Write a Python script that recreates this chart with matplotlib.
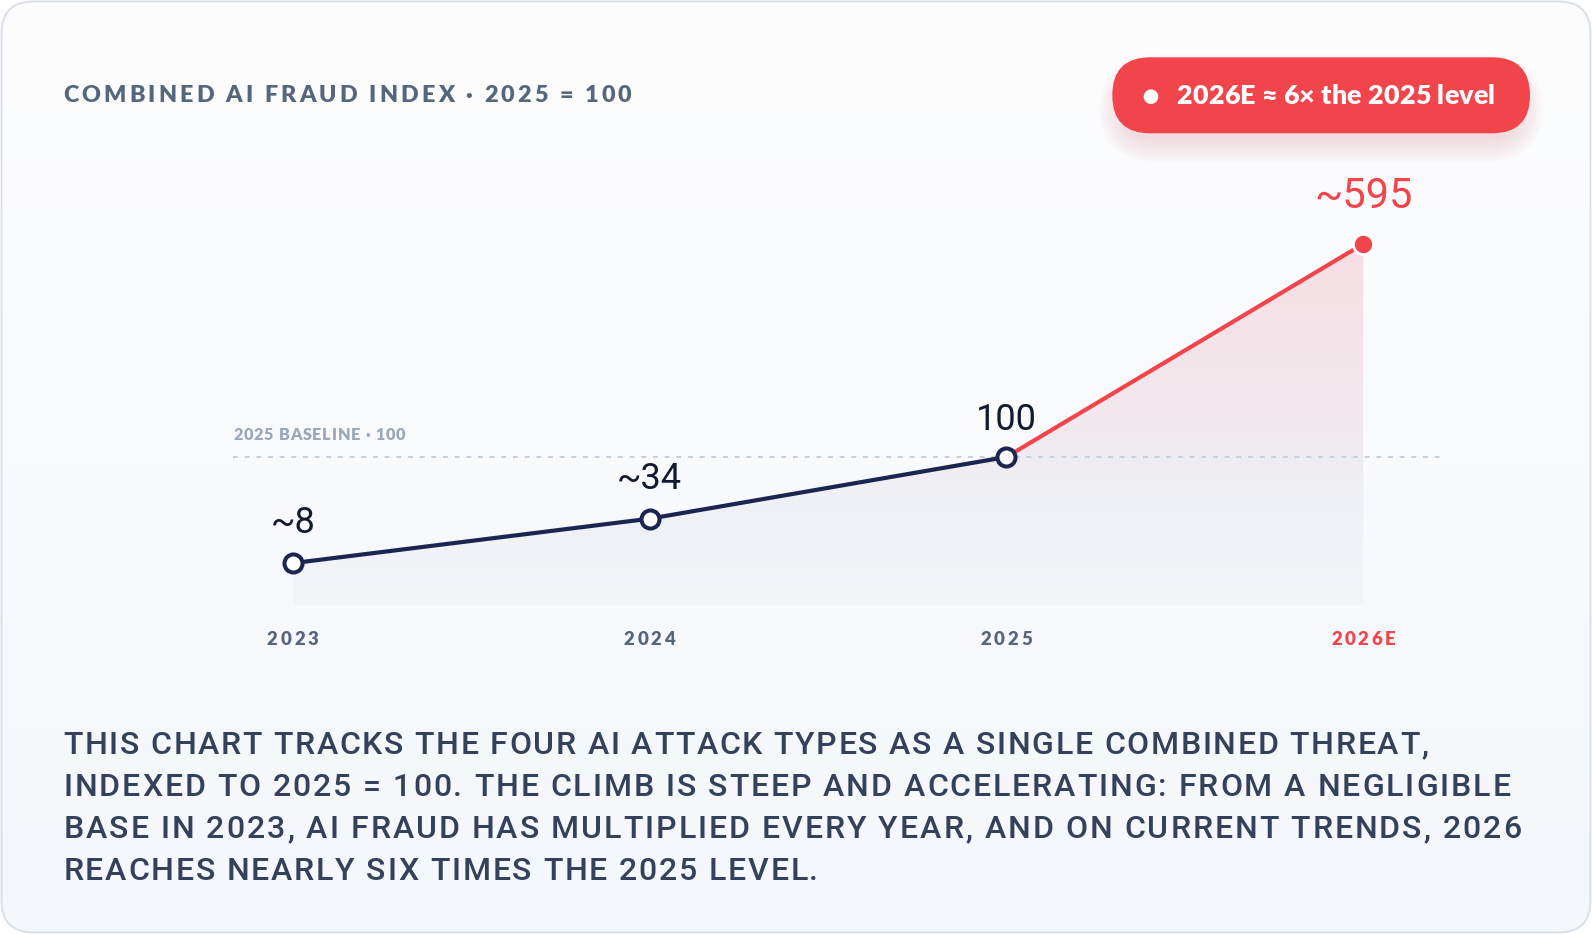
import numpy as np
import matplotlib
matplotlib.use('Agg')
import matplotlib.pyplot as plt
from matplotlib import font_manager as fm
from matplotlib.ft2font import FT2Font
from matplotlib.patches import FancyBboxPatch, Circle, Polygon
from matplotlib.colors import LinearSegmentedColormap

try:
    from matplotlib.ft2font import LoadFlags
    NOHINT = LoadFlags.NO_HINTING
except Exception:
    from matplotlib.ft2font import LOAD_NO_HINTING as NOHINT

# ---------------- data ----------------
years = ['2023', '2024', '2025', '2026E']
index_values = [8, 34, 100, 595]
value_labels = ['~8', '~34', '100', '~595']
baseline_value = 100
title = 'COMBINED AI FRAUD INDEX \u00b7 2025 = 100'
badge_text = '2026E \u2248 6\u00d7 the 2025 level'
baseline_label = '2025 BASELINE \u00b7 100'
paragraph_lines = [
    'THIS CHART TRACKS THE FOUR AI ATTACK TYPES AS A SINGLE COMBINED THREAT,',
    'INDEXED TO 2025 = 100. THE CLIMB IS STEEP AND ACCELERATING: FROM A NEGLIGIBLE',
    'BASE IN 2023, AI FRAUD HAS MULTIPLIED EVERY YEAR, AND ON CURRENT TRENDS, 2026',
    'REACHES NEARLY SIX TIMES THE 2025 LEVEL.',
]

# ---------------- style ----------------
NAVY = '#1b2550'
RED = '#f1444b'
SLATE = '#56667d'
DARK = '#121a2f'
PARA = '#33425a'

W, H = 1592, 934
DPI = 100
fig = plt.figure(figsize=(W / DPI, H / DPI), dpi=DPI)
fig.patch.set_facecolor('white')

bg = fig.add_axes([0, 0, 1, 1], zorder=0)
bg.set_xlim(0, W)
bg.set_ylim(H, 0)
bg.axis('off')

# card with vertical gradient
card = FancyBboxPatch((1.5, 1.5), W - 3, H - 3,
                      boxstyle='round,pad=0,rounding_size=32',
                      fc='none', ec='#d6dee8', lw=1.3, zorder=2)
bg.add_patch(card)
card_cmap = LinearSegmentedColormap.from_list('card', ['#fdfdfe', '#f4f7fb'])
grad = np.linspace(0, 1, 256).reshape(-1, 1)
im = bg.imshow(grad, cmap=card_cmap, extent=[0, W, H, 0], aspect='auto',
               origin='upper', zorder=1, interpolation='bilinear')
im.set_clip_path(card)
bg.set_xlim(0, W)
bg.set_ylim(H, 0)

# ---------------- tracked text helper ----------------
_ft_cache = {}


def _ft(family, weight, size):
    key = (family, weight, size)
    if key not in _ft_cache:
        path = fm.findfont(fm.FontProperties(family=family, weight=weight))
        f = FT2Font(path, hinting_factor=1)
        f.set_size(size, DPI)
        _ft_cache[key] = f
    return _ft_cache[key]


def _adv(f, ch):
    if f.get_char_index(ord(ch)) == 0:
        return None
    g = f.load_char(ord(ch), flags=NOHINT)
    return g.linearHoriAdvance / 65536.0


def _layout(s, family, weight, size, fallback='DejaVu Sans'):
    items = []
    for ch in s:
        fam = family
        a = _adv(_ft(family, weight, size), ch)
        if a is None:
            fam = fallback
            a = _adv(_ft(fallback, weight, size), ch)
        items.append((ch, a, fam))
    return items


def tracked(s, x, y, family, weight, size, color, track=None, width=None,
            ha='left', zorder=5):
    items = _layout(s, family, weight, size)
    natural = sum(a for _, a, _ in items)
    if width is not None:
        track = (width - natural) / max(len(items) - 1, 1)
    track = track or 0.0
    total = natural + track * (len(items) - 1)
    x0 = x - {'left': 0.0, 'center': total / 2.0, 'right': total}[ha]
    pen = x0
    for ch, a, fam in items:
        if not ch.isspace():
            bg.text(pen, y, ch, family=fam, weight=weight, size=size,
                    color=color, ha='left', va='baseline', zorder=zorder)
        pen += a + track
    return track


# ---------------- title ----------------
tracked(title, 63.3, 101.7, 'Lato', 'heavy', 16.8, SLATE, width=568)

# ---------------- badge ----------------
px, py, pw, ph = 1112.3, 57.3, 417.7, 76.0
for i in range(14):
    g = i * 1.8
    bg.add_patch(FancyBboxPatch((px - g + 10, py - g + 20), pw + 2 * g - 20, ph + 2 * g - 14,
                                boxstyle='round,pad=0,rounding_size=%f' % (36 + g),
                                fc=RED, ec='none', alpha=0.010, zorder=3))
bg.add_patch(FancyBboxPatch((px, py), pw, ph, boxstyle='round,pad=0,rounding_size=38',
                            fc=RED, ec='none', zorder=4))
bg.add_patch(Circle((1151, 96.7), 7.3, fc='white', ec='none', zorder=5))
tracked(badge_text, 1176.7, 104.3, 'Lato', 'heavy', 19.4, 'white', width=318)

# ---------------- chart axes ----------------
ax_left, ax_right, ax_top, ax_bottom = 233.0, 1440.0, 150.0, 605.0
x_origin, x_step, y_k = 292.8, 356.8, 14.8
ax = fig.add_axes([ax_left / W, (H - ax_bottom) / H,
                   (ax_right - ax_left) / W, (ax_bottom - ax_top) / H], zorder=1)
ax.patch.set_alpha(0)
ax.axis('off')
ax.set_xlim((ax_left - x_origin) / x_step, (ax_right - x_origin) / x_step)
ax.set_ylim(0, (ax_bottom - ax_top) / y_k)

xs = np.arange(len(years))
sv = np.sqrt(np.array(index_values, dtype=float))  # square-root scale

# gradient area fill
area_cmap = LinearSegmentedColormap.from_list(
    'area', [(0.0, '#f4f5f9'), (0.30, '#eff0f5'), (0.42, '#f0ecf1'),
             (0.70, '#f3e5ea'), (1.0, '#f6dfe4')])
verts = [(xs[0], 0)] + list(zip(xs, sv)) + [(xs[-1], 0)]
clip_poly = Polygon(verts, closed=True, fc='none', ec='none', transform=ax.transData)
ax.add_patch(clip_poly)
agrad = np.linspace(1, 0, 256).reshape(-1, 1)
aim = ax.imshow(agrad, cmap=area_cmap, extent=[xs[0], xs[-1], 0, sv.max()],
                aspect='auto', origin='upper', zorder=1, interpolation='bilinear')
aim.set_clip_path(clip_poly)
ax.set_xlim((ax_left - x_origin) / x_step, (ax_right - x_origin) / x_step)
ax.set_ylim(0, (ax_bottom - ax_top) / y_k)

# baseline dashed line
ax.axhline(np.sqrt(baseline_value), color='#c5cfdc', lw=1.4, dashes=(2.5, 3.5), zorder=2)

# lines
ax.plot(xs[:3], sv[:3], color=NAVY, lw=3.0, solid_capstyle='round', zorder=3)
ax.plot(xs[2:], sv[2:], color=RED, lw=3.0, solid_capstyle='round', zorder=3)
ax.plot(xs[:3], sv[:3], 'o', ms=13, mfc='white', mec=NAVY, mew=2.9, zorder=5)
ax.plot(xs[3:], sv[3:], 'o', ms=14.5, mfc=RED, mec='white', mew=2.0, zorder=5)

# value labels
for i, lab in enumerate(value_labels):
    is_last = i == len(value_labels) - 1
    ax.annotate(lab, (xs[i], sv[i]), xytext=(0, 36 if is_last else (27.5 if i == 2 else 30)),
                textcoords='offset pixels', ha='center', va='baseline',
                family='Roboto', size=30 if is_last else 26,
                color=RED if is_last else DARK, zorder=6)

# x tick labels (positions through the axes transform)
fig.canvas.draw()
for i, yr in enumerate(years):
    dx, dy = ax.transData.transform((xs[i], 0))
    tracked(yr, dx, H - dy + 40, 'Lato', 'heavy', 13.4,
            RED if i == len(years) - 1 else SLATE,
            width=51.7 if len(yr) == 4 else 64, ha='center')

# baseline label
bx, byd = ax.transData.transform(((ax_left - x_origin) / x_step, np.sqrt(baseline_value)))
tracked(baseline_label, bx + 0.3, H - byd - 17, 'Lato', 'heavy', 11.7, '#9aa8ba', width=172)

# ---------------- paragraph ----------------
# each line set to its measured width in the reference
para_widths = [1365.0, 1447.0, 1458.0, 755.0]
for j, line in enumerate(paragraph_lines):
    tracked(line, 63.3, 754.5 + 41.9 * j, 'Roboto', 'medium', 23, PARA, width=para_widths[j])

fig.savefig('out.png', dpi=DPI, facecolor='white')
